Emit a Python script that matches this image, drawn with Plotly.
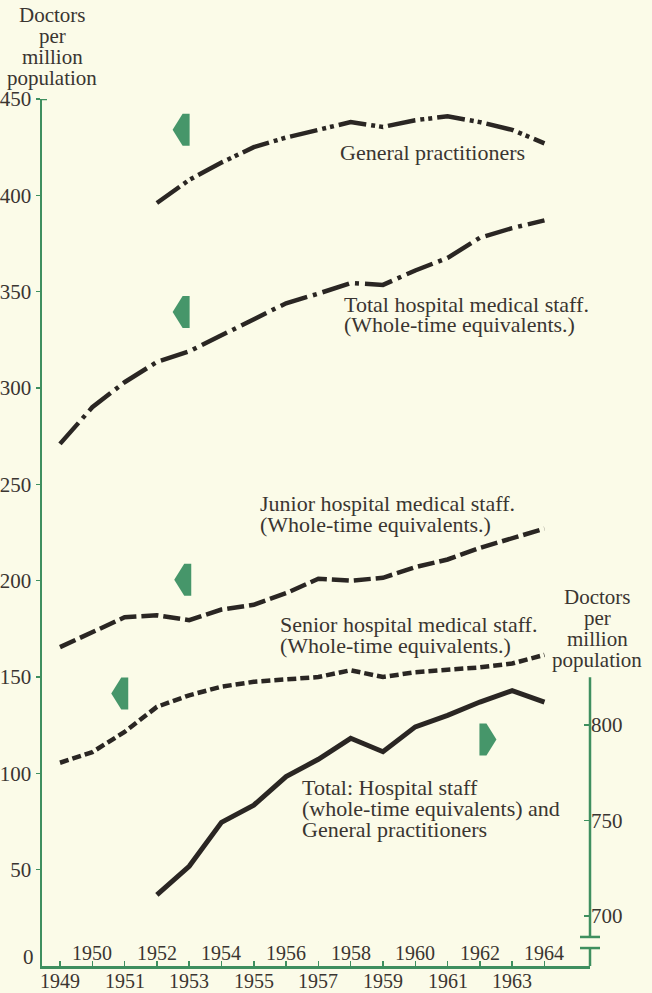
import plotly.graph_objects as go

# ---------------- data ----------------
years = list(range(1949, 1965))
gp_years = list(range(1952, 1965))
general_practitioners = [396, 408, 417, 425, 430, 434, 438, 435.5, 439, 441, 438, 434, 427]
hospital_total = [271, 290, 303, 313.5, 319, 327.5, 336, 344, 349, 354.5, 353.5, 361, 367.5, 378, 383, 387]
junior_staff = [165.5, 173.5, 181, 182, 179.5, 185, 187.5, 193.5, 201, 200, 201.5, 207, 211, 217, 222, 227]
senior_staff = [105.5, 111, 121.5, 134.5, 140.5, 145, 147.5, 148.5, 150, 153.5, 150, 152.5, 153.5, 155, 157, 161.5]
total_years = list(range(1952, 1965))
total_all = [711, 726, 749, 758, 773, 782, 793, 786, 799, 805, 812, 818, 812]  # right axis

left_ticks = [50, 100, 150, 200, 250, 300, 350, 400, 450]
right_ticks = [700, 750, 800]
year_labels = [str(y) for y in years]

# ---------------- style ----------------
BG = "#fbfbe8"
GREEN = "#3f8f5f"
ARROW = "#46966a"
INK = "#2a2623"
TXT = "#3a3531"
FONT = "Liberation Serif"

W, H = 652, 993
L, R, T, B = 42, 62, 99, 27
PW, PH = W - L - R, H - T - B


def xp(px):
    return (px - L) / PW


def yp(py):
    return (H - B - py) / PH


fig = go.Figure()

line_w = 4.5
fig.add_trace(go.Scatter(x=gp_years, y=general_practitioners, mode="lines",
                         line=dict(color=INK, width=line_w, dash="28px,5px,4px,4px,4px,5px"),
                         hoverinfo="skip", showlegend=False))
fig.add_trace(go.Scatter(x=years, y=hospital_total, mode="lines",
                         line=dict(color=INK, width=line_w, dash="28px,6px,4px,6px"),
                         hoverinfo="skip", showlegend=False))
fig.add_trace(go.Scatter(x=years, y=junior_staff, mode="lines",
                         line=dict(color=INK, width=line_w, dash="17px,5px"),
                         hoverinfo="skip", showlegend=False))
fig.add_trace(go.Scatter(x=years, y=senior_staff, mode="lines",
                         line=dict(color=INK, width=line_w, dash="9px,4px"),
                         hoverinfo="skip", showlegend=False))
fig.add_trace(go.Scatter(x=total_years, y=total_all, mode="lines", yaxis="y2",
                         line=dict(color=INK, width=5),
                         hoverinfo="skip", showlegend=False))

fig.update_layout(
    width=W, height=H,
    margin=dict(l=L, r=R, t=T, b=B, pad=0, autoexpand=False),
    paper_bgcolor=BG, plot_bgcolor=BG,
    font=dict(family=FONT, size=21, color=TXT),
    xaxis=dict(range=[1948.443, 1965.41], showgrid=False, zeroline=False, automargin=False,
               showline=True, linecolor=GREEN, linewidth=2.5,
               tickvals=years, showticklabels=False, ticks="inside", ticklen=5,
               tickcolor=GREEN, tickwidth=1.5),
    yaxis=dict(range=[0, 450], showgrid=False, zeroline=False, automargin=False,
               showline=True, linecolor=GREEN, linewidth=2.5,
               tickvals=left_ticks, ticks="outside", ticklen=4,
               tickcolor=GREEN, tickwidth=1.5,
               tickfont=dict(family=FONT, size=21, color=TXT)),
    yaxis2=dict(range=[673.8, 1127.7], overlaying="y", side="right", anchor="x",
                automargin=False,
                showgrid=False, zeroline=False, showline=False,
                tickvals=right_ticks, ticks="inside", ticklen=6,
                tickcolor=GREEN, tickwidth=1.5,
                tickfont=dict(family=FONT, size=21, color=TXT)),
)

# year labels: even years above the axis, odd years below
for y, lab in zip(years, year_labels):
    shift = 13 if y % 2 == 0 else -15
    fig.add_annotation(x=y, y=0, xref="x", yref="y", text=lab, showarrow=False,
                       yanchor="middle", yshift=shift, font=dict(size=20, color=TXT))
fig.add_annotation(x=xp(36), y=0, xref="paper", yref="y", text="0", showarrow=False,
                   xanchor="right", yanchor="middle", yshift=9, font=dict(size=21, color=TXT))

# axis headers
for txt, cy in zip(["Doctors", "per", "million", "population"], [15, 36, 57, 78]):
    fig.add_annotation(x=xp(52), y=yp(cy), xref="paper", yref="paper", text=txt,
                       showarrow=False, xanchor="center", yanchor="middle",
                       font=dict(size=21, color=TXT))
for txt, cy in zip(["Doctors", "per", "million", "population"], [597, 618, 639, 660]):
    fig.add_annotation(x=xp(597), y=yp(cy), xref="paper", yref="paper", text=txt,
                       showarrow=False, xanchor="center", yanchor="middle",
                       font=dict(size=21, color=TXT))

# series labels
labels = [
    (338, [("General practitioners", 153)]),
    (342, [("Total hospital medical staff.", 304), ("(Whole-time equivalents.)", 324)]),
    (258, [("Junior hospital medical staff.", 503), ("(Whole-time equivalents.)", 524)]),
    (278, [("Senior hospital medical staff.", 624), ("(Whole-time equivalents.)", 645)]),
    (300, [("Total: Hospital staff", 787), ("(whole-time equivalents) and", 808),
           ("General practitioners", 829)]),
]
for lx, lines in labels:
    for txt, cy in lines:
        fig.add_annotation(x=xp(lx), y=yp(cy), xref="paper", yref="paper", text=txt,
                           showarrow=False, xanchor="left", yanchor="middle",
                           font=dict(size=22, color=TXT))

# right axis partial line with break
cap = 10 / PW
fig.add_shape(type="line", xref="paper", yref="y2", x0=1, x1=1, y0=689, y1=825,
              line=dict(color=GREEN, width=2.5))
fig.add_shape(type="line", xref="paper", yref="y2", x0=1 - cap, x1=1 + cap, y0=689, y1=689,
              line=dict(color=GREEN, width=2.5))
fig.add_shape(type="line", xref="paper", yref="y2", x0=1, x1=1, y0=673.8, y1=683.2,
              line=dict(color=GREEN, width=2.5))
fig.add_shape(type="line", xref="paper", yref="y2", x0=1 - cap, x1=1 + cap, y0=683.2, y1=683.2,
              line=dict(color=GREEN, width=2.5))
# top cap of left axis
fig.add_shape(type="line", xref="paper", yref="y", x0=0, x1=5 / PW, y0=450, y1=450,
              line=dict(color=GREEN, width=2.5))

# direction arrows
left_arrow = "M-8.5,0 L1.5,16 L8.5,16 L8.5,-16 L1.5,-16 Z"
right_arrow = "M8.5,0 L-1.5,16 L-8.5,16 L-8.5,-16 L-1.5,-16 Z"
arrows = [(1952.75, 434, left_arrow), (1952.75, 339.5, left_arrow),
          (1952.8, 200.5, left_arrow), (1950.85, 141.5, left_arrow),
          (1962.25, 117.5, right_arrow)]
for ax, ay, path in arrows:
    fig.add_shape(type="path", xref="x", yref="y", xsizemode="pixel", ysizemode="pixel",
                  xanchor=ax, yanchor=ay, path=path, fillcolor=ARROW,
                  line=dict(color=ARROW, width=0))

fig.write_html(
    "out.html",
    config={"displayModeBar": False, "staticPlot": True},
    post_script="document.body.style.margin='0';document.body.style.background='" + BG + "';"
                "document.body.style.overflow='hidden';",
)
